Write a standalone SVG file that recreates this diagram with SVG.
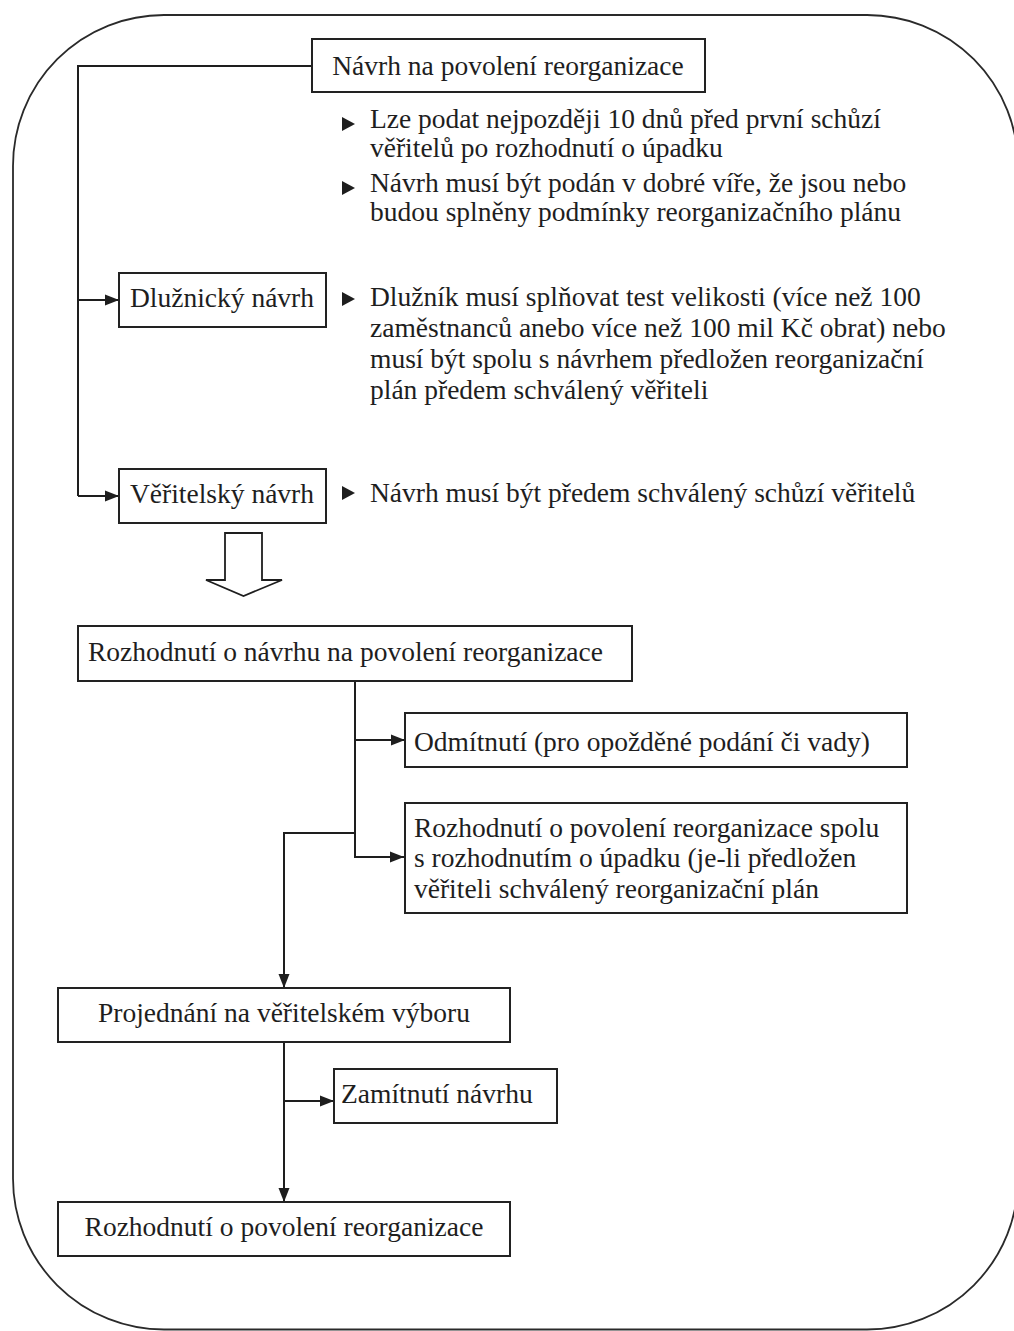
<svg xmlns="http://www.w3.org/2000/svg" width="1014" height="1331" viewBox="0 0 1014 1331">
<style>
.box{fill:#fff;stroke:#222;stroke-width:2}
.t{font-family:"Liberation Serif","Times New Roman",serif;font-size:27.5px;fill:#1e1e1e}
.c{text-anchor:middle}
.ln{fill:none;stroke:#1e1e1e;stroke-width:2}
.bul{fill:#1e1e1e}
</style>
<defs>
<marker id="ah" markerUnits="userSpaceOnUse" markerWidth="14" markerHeight="12" refX="14" refY="6" orient="auto">
<path d="M0,0.5 L14,6 L0,11.5 Z" fill="#1e1e1e"/>
</marker>
</defs>
<rect x="13" y="15" width="1005" height="1314.5" rx="151" ry="151" fill="none" stroke="#2a2a2a" stroke-width="1.8"/>
<g id="connectors">
<polyline class="ln" points="312,66 78,66 78,496"/>
<line class="ln" x1="78" y1="300" x2="119" y2="300" marker-end="url(#ah)"/>
<line class="ln" x1="78" y1="496" x2="119" y2="496" marker-end="url(#ah)"/>
<polygon points="225,533 262,533 262,580 282,580 243.5,596 206,580 225,580" fill="#fff" stroke="#1e1e1e" stroke-width="1.8"/>
<polyline class="ln" points="355,681 355,857 404,857" marker-end="url(#ah)"/>
<line class="ln" x1="355" y1="740" x2="405" y2="740" marker-end="url(#ah)"/>
<polyline class="ln" points="355,833 284,833 284,988" marker-end="url(#ah)"/>
<line class="ln" x1="284" y1="1042" x2="284" y2="1202" marker-end="url(#ah)"/>
<line class="ln" x1="284" y1="1101" x2="334" y2="1101" marker-end="url(#ah)"/>
</g>
<g id="n1">
<rect class="box" x="312" y="39" width="393" height="53"/>
<text class="t c" x="508" y="75">Návrh na povolení reorganizace</text>
</g>
<g id="n1-notes">
<polygon class="bul" points="342,117 355,124 342,131"/>
<text class="t" x="370" y="128">Lze podat nejpozději 10 dnů před první schůzí</text>
<text class="t" x="370" y="157">věřitelů po rozhodnutí o úpadku</text>
<polygon class="bul" points="342,181 355,188 342,195"/>
<text class="t" x="370" y="192">Návrh musí být podán v dobré víře, že jsou nebo</text>
<text class="t" x="370" y="221">budou splněny podmínky reorganizačního plánu</text>
</g>
<g id="n2">
<rect class="box" x="119" y="273" width="207" height="54"/>
<text class="t c" x="222" y="307">Dlužnický návrh</text>
</g>
<g id="n2-notes">
<polygon class="bul" points="342,292 355,299 342,306"/>
<text class="t" x="370" y="306">Dlužník musí splňovat test velikosti (více než 100</text>
<text class="t" x="370" y="337">zaměstnanců anebo více než 100 mil Kč obrat) nebo</text>
<text class="t" x="370" y="368">musí být spolu s návrhem předložen reorganizační</text>
<text class="t" x="370" y="399">plán předem schválený věřiteli</text>
</g>
<g id="n3">
<rect class="box" x="119" y="469" width="207" height="54"/>
<text class="t c" x="222" y="503">Věřitelský návrh</text>
</g>
<g id="n3-notes">
<polygon class="bul" points="342,486 355,493 342,500"/>
<text class="t" x="370" y="502">Návrh musí být předem schválený schůzí věřitelů</text>
</g>
<g id="n4">
<rect class="box" x="78" y="626" width="554" height="55"/>
<text class="t" x="88" y="661">Rozhodnutí o návrhu na povolení reorganizace</text>
</g>
<g id="n5">
<rect class="box" x="405" y="713" width="502" height="54"/>
<text class="t" x="414" y="751">Odmítnutí (pro opožděné podání či vady)</text>
</g>
<g id="n6">
<rect class="box" x="405" y="803" width="502" height="110"/>
<text class="t" x="414" y="837">Rozhodnutí o povolení reorganizace spolu</text>
<text class="t" x="414" y="867">s rozhodnutím o úpadku (je-li předložen</text>
<text class="t" x="414" y="898">věřiteli schválený reorganizační plán</text>
</g>
<g id="n7">
<rect class="box" x="58" y="988" width="452" height="54"/>
<text class="t c" x="284" y="1022">Projednání na věřitelském výboru</text>
</g>
<g id="n8">
<rect class="box" x="334" y="1069" width="223" height="54"/>
<text class="t" x="341" y="1103">Zamítnutí návrhu</text>
</g>
<g id="n9">
<rect class="box" x="58" y="1202" width="452" height="54"/>
<text class="t c" x="284" y="1236">Rozhodnutí o povolení reorganizace</text>
</g>
</svg>
